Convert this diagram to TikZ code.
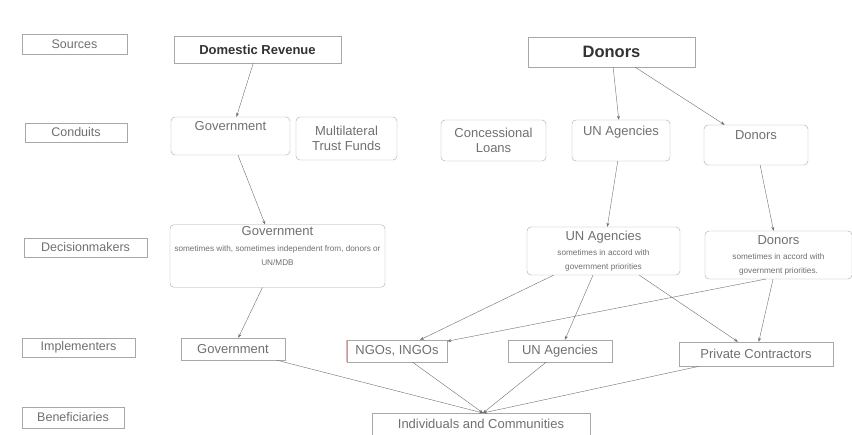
\documentclass[tikz,border=0pt]{standalone}
\usepackage{fontspec}
\setmainfont{Liberation Sans}
\usetikzlibrary{positioning}
\usetikzlibrary{graphs}
\usetikzlibrary{arrows.meta}
\definecolor{boxgray}{HTML}{A8A8A8}
\definecolor{txtgray}{HTML}{707070}
\newcommand \notefont {\fontsize{8.2}{9.5}\selectfont}
\tikzset{
	tier/.style={
		draw=boxgray,
		text=txtgray,
		font=\fontsize{12.5}{14}\selectfont,
		inner sep=0pt
	},
	flowbox/.style={
		draw=boxgray,
		rounded corners=4pt,
		text=txtgray,
		align=center,
		inner sep=2pt,
		font=\fontsize{13}{15}\selectfont
	},
	plainbox/.style={
		draw=boxgray,
		text=txtgray,
		inner sep=0pt,
		font=\fontsize{13}{15}\selectfont
	},
	sourcebox/.style={
		draw=boxgray,
		text=black!80,
		inner sep=0pt,
		font=\bfseries\fontsize{#1}{16}\selectfont
	},
	size/.style 2 args={minimum width=#1pt, minimum height=#2pt}
}
\begin{document}
\begin{tikzpicture} [x=1pt, y=-1pt, >={Stealth[length=4pt,width=3pt]}]
	\fill [white] (0,0) rectangle (852,435) ;
	\useasboundingbox (0,0) rectangle (852,435) ;

	% tiers
	\node [tier, size={105}{20}] (sources) at (74.5,44) {Sources} ;
	\node [tier, size={102}{19}] (conduits) at (76,132.5) {Conduits} ;
	\node [tier, size={123}{19}] (deciders) at (85.5,247.5) {Decisionmakers} ;
	\node [tier, size={113}{19}] (implementers) at (78.5,347.5) {Implementers} ;
	\node [tier, size={102}{21}] (beneficiaries) at (73,417.5) {Beneficiaries} ;

	% sources
	\node [sourcebox=13, size={167}{27}] (domrev) at (257.5,49.5) {Domestic Revenue} ;
	\node [sourcebox=16.5, size={167}{30}] (donors) at (611.5,52) {Donors} ;

	% conduits
	\node [flowbox, size={119}{38}] (govc) at (230.5,136) {Government\\\strut} ;
	\node [flowbox, size={101}{43}] (trust) at (346.5,138.5) {Multilateral\\Trust Funds} ;
	\node [flowbox, size={105}{41}] (loans) at (493.5,140.5) {Concessional\\Loans} ;
	\node [flowbox, size={98}{41}] (unc) at (621,140.5) {UN Agencies\\\strut} ;
	\node [flowbox, size={104}{40}] (donc) at (756,145) {Donors\\\strut} ;

	% decisionmakers
	\node [flowbox, size={215}{62}] (govd) at (277.5,256)
		{Government\\[1pt]{\notefont sometimes with, sometimes independent from, donors or}\\[-1pt]{\notefont UN/MDB}\\\strut} ;
	\node [flowbox, size={153}{48}] (und) at (603.5,251)
		{UN Agencies\\{\notefont sometimes in accord with}\\[-1pt]{\notefont government priorities}} ;
	\node [flowbox, size={147}{48}] (dond) at (778.5,255)
		{Donors\\{\notefont sometimes in accord with}\\[-1pt]{\notefont government priorities.}} ;
	\coordinate (dondout) at (766,279) ;

	% implementers
	\node [plainbox, size={104}{22}] (govi) at (233,349) {Government} ;
	\node [plainbox, size={100}{22}] (ngos) at (397,351) {NGOs, INGOs} ;
	\draw [red!35, line width=1pt] (ngos.south west) -- (ngos.north west) ;
	\node [plainbox, size={104}{22}] (uni) at (560,351) {UN Agencies} ;
	\node [plainbox, size={154}{24}] (private) at (756,354) {Private Contractors} ;

	% beneficiaries
	\node [plainbox, size={218}{22}] (people) at (481,424) {Individuals and Communities} ;
	\coordinate (peoplein) at (483,413) ;

	\graph [use existing nodes, edges={draw=txtgray, thin}] {
		domrev -> govc -> govd -> govi ;
		donors -> { unc, donc } ;
		unc -> und -> { ngos, uni, private } ;
		donc -> dond -> private ;
		dondout -> ngos ;
		{ govi, ngos, uni, private } -> peoplein
	} ;
\end{tikzpicture}
\end{document}
